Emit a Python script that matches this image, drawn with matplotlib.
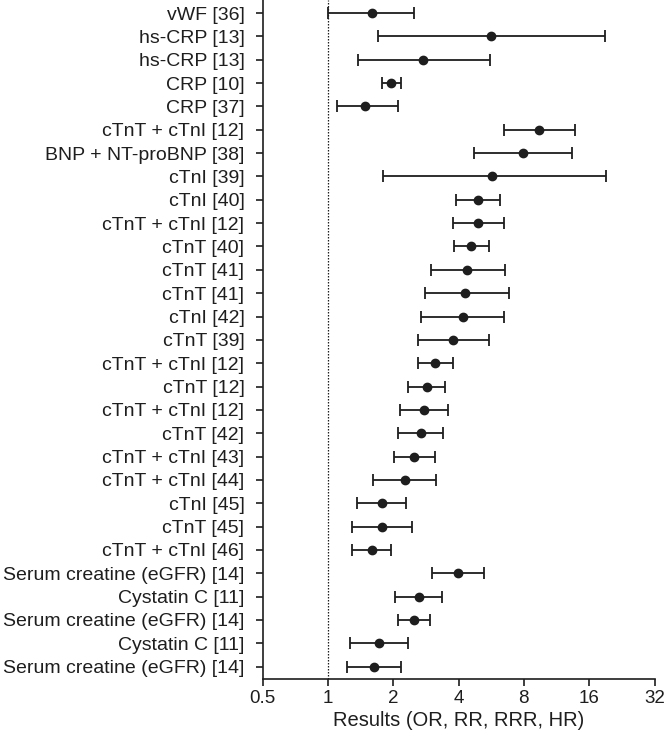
import matplotlib
matplotlib.use("Agg")
import matplotlib.pyplot as plt
from matplotlib.ticker import FixedLocator, FixedFormatter, NullLocator

plt.rcParams['font.family'] = ['Liberation Sans', 'DejaVu Sans']

labels = [
    "vWF [36]", "hs-CRP [13]", "hs-CRP [13]", "CRP [10]", "CRP [37]",
    "cTnT + cTnI [12]", "BNP + NT-proBNP [38]", "cTnI [39]", "cTnI [40]",
    "cTnT + cTnI [12]", "cTnT [40]", "cTnT [41]", "cTnT [41]", "cTnI [42]",
    "cTnT [39]", "cTnT + cTnI [12]", "cTnT [12]", "cTnT + cTnI [12]",
    "cTnT [42]", "cTnT + cTnI [43]", "cTnT + cTnI [44]", "cTnI [45]",
    "cTnT [45]", "cTnT + cTnI [46]", "Serum creatine (eGFR) [14]",
    "Cystatin C [11]", "Serum creatine (eGFR) [14]", "Cystatin C [11]",
    "Serum creatine (eGFR) [14]",
]
estimate = [1.60, 5.66, 2.75, 1.96, 1.49, 9.41, 7.93, 5.71, 4.94, 4.92,
            4.56, 4.39, 4.30, 4.20, 3.79, 3.11, 2.85, 2.78, 2.69, 2.50,
            2.27, 1.77, 1.77, 1.59, 3.98, 2.62, 2.50, 1.72, 1.63]
lower = [1.00, 1.70, 1.38, 1.78, 1.10, 6.47, 4.70, 1.80, 3.89, 3.77,
         3.81, 3.00, 2.79, 2.70, 2.61, 2.59, 2.34, 2.16, 2.10, 2.01,
         1.62, 1.36, 1.29, 1.29, 3.03, 2.05, 2.10, 1.27, 1.22]
upper = [2.50, 19.0, 5.58, 2.17, 2.10, 13.7, 13.4, 19.1, 6.24, 6.47,
         5.53, 6.53, 6.83, 6.45, 5.53, 3.76, 3.48, 3.57, 3.40, 3.11,
         3.15, 2.30, 2.44, 1.95, 5.24, 3.37, 2.97, 2.34, 2.17]
x_ticks = [0.5, 1, 2, 4, 8, 16, 32]
x_tick_labels = ["0.5", "1", "2", "4", "8", "16", "32"]
x_label = "Results (OR, RR, RRR, HR)"

n = len(labels)
ypos = list(range(n - 1, -1, -1))
ink = '#1e1e1e'

fig = plt.figure(figsize=(6.64, 7.37), dpi=100)
left, right, bottom = 262.5 / 664, 654.5 / 664, (737 - 679) / 737
ax = fig.add_axes([left, bottom, right - left, 1.0 - bottom])

err_lo = [e - l for e, l in zip(estimate, lower)]
err_hi = [u - e for e, u in zip(estimate, upper)]
ax.errorbar(estimate, ypos, xerr=[err_lo, err_hi], fmt='o', color=ink,
            ecolor=ink, elinewidth=1.3, capsize=4, capthick=1.3,
            markersize=6, zorder=3)

ax.axvline(1, color=ink, linestyle=(0, (1.2, 1.2)), linewidth=0.9, zorder=1)

ax.set_xscale('log', base=2)
ax.set_xlim(0.5, 32)
ax.xaxis.set_major_locator(FixedLocator(x_ticks))
ax.xaxis.set_major_formatter(FixedFormatter(x_tick_labels))
ax.xaxis.set_minor_locator(NullLocator())
ax.set_ylim(-0.53, n - 1 + 0.56)
ax.set_yticks(ypos)
ax.set_yticklabels(labels)

for s in ['top', 'right']:
    ax.spines[s].set_visible(False)
for s in ['left', 'bottom']:
    ax.spines[s].set_linewidth(1.2)
    ax.spines[s].set_color(ink)

ax.tick_params(axis='y', which='major', labelsize=14, colors=ink,
               width=1.2, length=5, direction='out', pad=8)
ax.tick_params(axis='x', which='major', labelsize=13.5, colors=ink,
               width=1.2, length=5, direction='out', pad=3)
ax.set_xlabel(x_label, fontsize=14.5, color=ink, labelpad=3)

fig.savefig("out.png", dpi=100)
